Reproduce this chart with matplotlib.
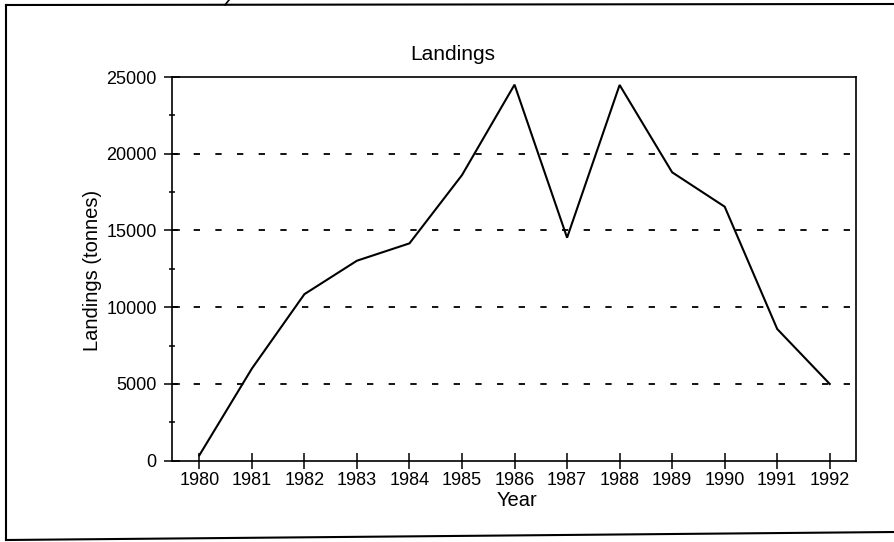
import matplotlib
matplotlib.use("Agg")
import matplotlib.pyplot as plt
from matplotlib.lines import Line2D
from matplotlib.ticker import MultipleLocator

years = [1980, 1981, 1982, 1983, 1984, 1985, 1986, 1987, 1988, 1989, 1990, 1991, 1992]
landings = [350, 6000, 10850, 13030, 14160, 18610, 24500, 14530, 24480, 18790, 16550, 8580, 5000]
y_ticks = [0, 5000, 10000, 15000, 20000, 25000]
grid_levels = [5000, 10000, 15000, 20000]

plt.rcParams['font.family'] = ['Liberation Sans', 'DejaVu Sans']

W, H = 895, 542
fig = plt.figure(figsize=(W / 100, H / 100), dpi=100)
ax = fig.add_axes([172 / W, 1 - 460.7 / H, (855.5 - 172) / W, (460.7 - 77) / H])

ax.plot(years, landings, color='black', lw=1.5, solid_joinstyle='miter', zorder=3)
for g in grid_levels:
    ax.axhline(g, color='black', lw=1.3, dashes=(3.5, 8.5), zorder=2)

ax.set_xlim(1979.48, 1992.49)
ax.set_ylim(0, 25000)
ax.set_xticks(years)
ax.set_xticklabels([str(y) for y in years])
ax.set_yticks(y_ticks)
ax.set_yticklabels([str(v) for v in y_ticks])
ax.yaxis.set_minor_locator(MultipleLocator(2500))

ax.tick_params(axis='both', which='major', direction='inout', length=12, width=1.1,
               labelsize=13, colors='black')
ax.tick_params(axis='x', which='major', pad=2)
ax.tick_params(axis='y', which='major', pad=5)
ax.tick_params(axis='y', which='minor', direction='inout', length=5, width=1.1)
for s in ax.spines.values():
    s.set_linewidth(1.2)
    s.set_color('black')

fig.text(453 / W, 1 - 54 / H, 'Landings', ha='center', va='center', fontsize=15)
fig.text(93 / W, 1 - 270 / H, 'Landings (tonnes)', ha='center', va='center',
         rotation=90, fontsize=14.5)
fig.text(517 / W, 1 - 500 / H, 'Year', ha='center', va='center', fontsize=14.5)

# outer frame of the scanned page
def px_line(x0, y0, x1, y1, lw=1.5):
    fig.add_artist(Line2D([x0 / W, x1 / W], [1 - y0 / H, 1 - y1 / H],
                          transform=fig.transFigure, color='black', lw=lw))

px_line(6, 5, 895, 4)
px_line(6, 5, 6, 540)
px_line(6, 540, 895, 532)
px_line(225, 5, 229, 0, lw=1.2)

fig.savefig('out.png', dpi=100)
